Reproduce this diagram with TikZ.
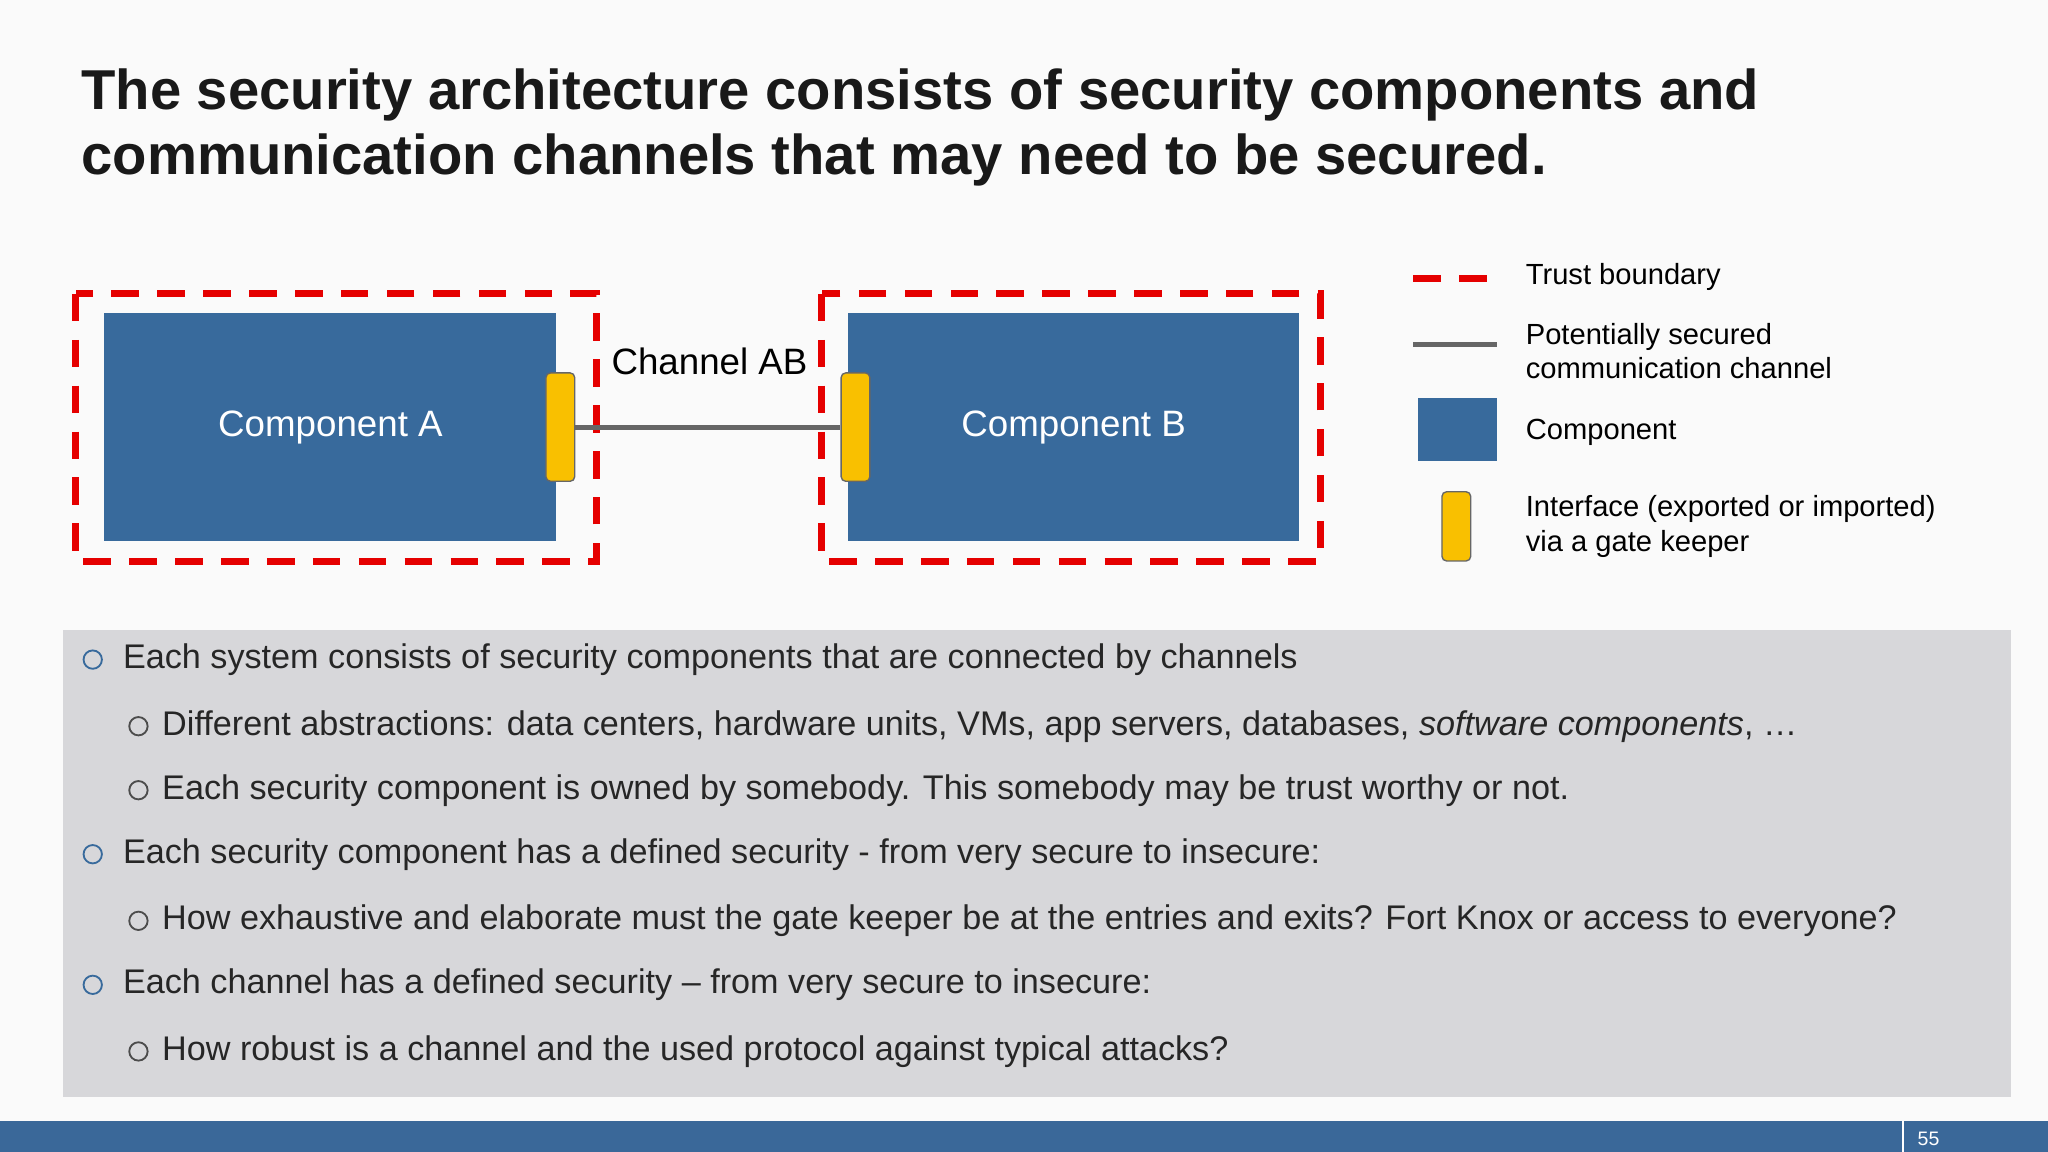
\documentclass[tikz,border=0pt]{standalone}
\usepackage{fontspec}
\setmainfont{Liberation Sans}
\begin{document}
\definecolor{comp}{HTML}{386A9C}
\definecolor{gate}{HTML}{F9C000}
\definecolor{panel}{HTML}{D7D7DA}
\definecolor{bar}{HTML}{3A6899}
\begin{tikzpicture}[x=0.02cm,y=-0.02cm,
  tb/.style={draw=red!90!black,line width=3pt,dash pattern=on 12pt off 8pt},
  compo/.style={fill=comp,draw=none},
  gk/.style={fill=gate,draw=black!60,line width=0.6pt,rounded corners=2pt},
  chan/.style={draw=black!60,line width=2.2pt},
  lg/.style={anchor=west,font=\fontsize{12.7}{15}\selectfont,align=left},
  b1/.style={anchor=west,font=\fontsize{14.9}{17}\selectfont,text=black!85},
  bc/.style={draw=comp,line width=0.8pt,circle,minimum size=8pt,inner sep=0pt},
  bc2/.style={draw=black!70,line width=0.8pt,circle,minimum size=8pt,inner sep=0pt}]
\useasboundingbox (0,0) rectangle (1568,882);
\fill[white!98!black] (0,0) rectangle (1568,882);
\node[anchor=north west,font=\bfseries\fontsize{24.5}{28.5}\selectfont,align=left,inner sep=0pt,text=black!90] (title) at (62,52)
 {The security architecture consists of security components and\\communication channels that may need to be secured.};
% boxes
\draw[tb] (58,225) rectangle (457,430);
\draw[tb] (629,225) rectangle (1011,430);
\node[compo,minimum width=346*0.02cm,minimum height=174*0.02cm,text=white,font=\fontsize{16}{19}\selectfont] (A) at (253,327) {Component A};
\node[compo,minimum width=345*0.02cm,minimum height=174*0.02cm,text=white,font=\fontsize{16}{19}\selectfont] (B) at (822,327) {Component B};
\node[gk,minimum width=22*0.02cm,minimum height=83*0.02cm,inner sep=0pt] (ga) at (429,327) {};
\node[gk,minimum width=22*0.02cm,minimum height=83*0.02cm,inner sep=0pt] (gb) at (655,327) {};
\draw[chan] (ga.east) -- (gb.west);
\node[anchor=west,font=\fontsize{16}{19}\selectfont] (ch) at (462,277) {Channel AB};
% legend
\coordinate (l1a) at (1082,213); \coordinate (l1b) at (1146,213);
\draw[tb] (l1a) -- (l1b);
\node[lg] (t1) at (1162,212) {Trust boundary};
\coordinate (l2a) at (1082,264); \coordinate (l2b) at (1146,264);
\draw[chan] (l2a) -- (l2b);
\node[lg] (t2) at (1162,269) {Potentially secured\\communication channel};
\node[compo,minimum width=60*0.02cm,minimum height=48*0.02cm] (lc) at (1116,329) {};
\node[lg] (t3) at (1162,331) {Component};
\node[gk,minimum width=22*0.02cm,minimum height=53*0.02cm,inner sep=0pt] (lgk) at (1115,403) {};
\node[lg] (t4) at (1162,403) {Interface (exported or imported)\\via a gate keeper};
% panel
\fill[panel] (48,482) rectangle (1540,840);
\node[bc] (c1) at (71,505) {}; \node[b1] (s1) at (88,505) {Each system consists of security components that are connected by channels};
\node[bc2] (c2) at (106,556) {}; \node[b1] (s2) at (118,556) {Different abstractions: data centers, hardware units, VMs, app servers, databases, \textit{software components}, …};
\node[bc2] (c3) at (106,605) {}; \node[b1] (s3) at (118,605) {Each security component is owned by somebody. This somebody may be trust worthy or not.};
\node[bc] (c4) at (71,654) {}; \node[b1] (s4) at (88,654) {Each security component has a defined security - from very secure to insecure:};
\node[bc2] (c5) at (106,705) {}; \node[b1] (s5) at (118,705) {How exhaustive and elaborate must the gate keeper be at the entries and exits? Fort Knox or access to everyone?};
\node[bc] (c6) at (71,754) {}; \node[b1] (s6) at (88,754) {Each channel has a defined security – from very secure to insecure:};
\node[bc2] (c7) at (106,805) {}; \node[b1] (s7) at (118,805) {How robust is a channel and the used protocol against typical attacks?};
% bottom bar
\fill[bar] (0,858) rectangle (1568,882);
\draw[white,line width=0.8pt] (1457,858) -- (1457,882);
\node[anchor=west,text=white,font=\fontsize{8.5}{10}\selectfont] (pg) at (1462,872) {55};
\end{tikzpicture}
\end{document}
